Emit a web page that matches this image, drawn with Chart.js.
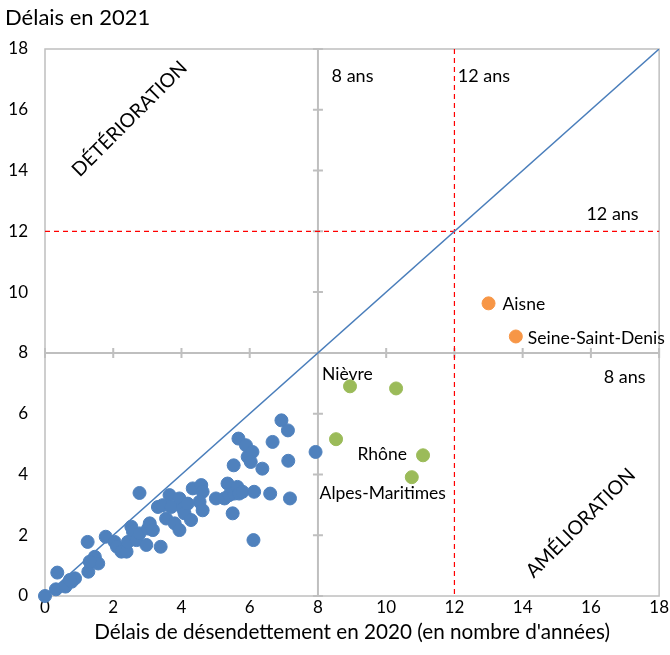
<!DOCTYPE html>
<html lang="fr">
<head>
<meta charset="UTF-8">
<title>Délais de désendettement 2020 / 2021</title>
<script src="https://cdn.jsdelivr.net/npm/chart.js"></script>
<style>
  html, body { margin: 0; padding: 0; background: #fff; }
  #wrap { width: 670px; height: 655px; position: relative; }
</style>
</head>
<body>
<div id="wrap"><canvas id="chart"></canvas></div>
<script>
// axis ticks
const tickValues = [0, 2, 4, 6, 8, 10, 12, 14, 16, 18];
const quadrantLine = 8;   // seuil "8 ans"
const alertLine = 12;     // seuil "12 ans"

// départements (délai 2020, délai 2021)
const blueX = [0, 0.36, 0.32, 0.6, 0.78, 0.88, 0.73, 1.27, 1.25, 1.46, 1.56, 1.31, 1.78, 2.04, 2.11, 2.24, 2.39,
  2.53, 2.58, 2.43, 2.77, 2.68, 2.97, 2.77, 3.02, 3.07, 3.16, 3.39, 3.31, 3.45, 3.55, 3.65, 3.7, 3.8, 3.94,
  3.94, 4.04, 4.09, 4.28, 4.33, 4.58, 4.62, 4.53, 4.62, 4.18, 5.01, 5.26, 5.35, 5.4, 5.55, 5.64, 5.69, 5.79,
  5.5, 5.53, 5.67, 5.89, 5.94, 6.08, 6.03, 6.13, 6.11, 6.37, 6.6, 6.67, 6.93, 7.12, 7.13, 7.18, 7.93];
const blueY = [0, 0.77, 0.22, 0.31, 0.47, 0.58, 0.53, 0.8, 1.78, 1.29, 1.07, 1.13, 1.95, 1.78, 1.62, 1.46, 1.46,
  2.28, 2.11, 1.78, 3.39, 1.84, 1.68, 2.06, 2.22, 2.39, 2.17, 1.62, 2.93, 2.99, 2.55, 3.32, 2.93, 2.39, 2.17,
  3.21, 2.88, 2.72, 2.5, 3.54, 3.65, 3.43, 3.1, 2.82, 3.04, 3.21, 3.21, 3.7, 3.32, 3.37, 3.59, 3.37, 3.43,
  2.72, 4.3, 5.18, 4.96, 4.58, 4.74, 4.41, 3.43, 1.84, 4.19, 3.37, 5.07, 5.78, 5.45, 4.45, 3.21, 4.74];

const greenX = [8.94, 10.29, 8.53, 11.08, 10.75];
const greenY = [6.9, 6.83, 5.16, 4.63, 3.91];
const greenNames = ['Nièvre', '', '', 'Rhône', 'Alpes-Maritimes'];

const orangeX = [13.0, 13.8];
const orangeY = [9.63, 8.54];
const orangeNames = ['Aisne', 'Seine-Saint-Denis'];

const toPoints = (xs, ys) => xs.map((x, i) => ({ x: x, y: ys[i] }));

const FONT = 'Lato, "Open Sans", sans-serif';
const GREY = '#BFBFBF';

// label offsets in pixels relative to the point
const labelPlacement = {
  'Nièvre': { dx: -28, dy: -12, align: 'left' },
  'Rhône': { dx: -16, dy: -1, align: 'right' },
  'Alpes-Maritimes': { dx: -29, dy: 16, align: 'center' },
  'Aisne': { dx: 14, dy: 1, align: 'left' },
  'Seine-Saint-Denis': { dx: 12, dy: 2, align: 'left' }
};

const decor = {
  id: 'decor',
  beforeDatasetsDraw(chart) {
    const { ctx, chartArea: a, scales: { x, y } } = chart;
    ctx.save();
    // plot border
    ctx.strokeStyle = GREY;
    ctx.lineWidth = 1.5;
    ctx.strokeRect(a.left, a.top, a.right - a.left, a.bottom - a.top);

    // axes crossing at 8
    const x8 = x.getPixelForValue(quadrantLine);
    const y8 = y.getPixelForValue(quadrantLine);
    ctx.lineWidth = 2;
    ctx.beginPath();
    ctx.moveTo(x8, a.top); ctx.lineTo(x8, a.bottom);
    ctx.moveTo(a.left, y8); ctx.lineTo(a.right, y8);
    tickValues.forEach(v => {
      const px = x.getPixelForValue(v);
      const py = y.getPixelForValue(v);
      ctx.moveTo(px, y8 - 5); ctx.lineTo(px, y8 + 5);
      ctx.moveTo(x8 - 5, py); ctx.lineTo(x8 + 5, py);
    });
    ctx.stroke();

    // red dashed 12 ans lines
    const x12 = x.getPixelForValue(alertLine);
    const y12 = y.getPixelForValue(alertLine);
    ctx.strokeStyle = '#FF0000';
    ctx.lineWidth = 1.2;
    ctx.setLineDash([5, 4]);
    ctx.beginPath();
    ctx.moveTo(x12, a.top); ctx.lineTo(x12, a.bottom);
    ctx.moveTo(a.left, y12); ctx.lineTo(a.right, y12);
    ctx.stroke();
    ctx.restore();
  },
  afterDatasetsDraw(chart) {
    const { ctx, scales: { x, y } } = chart;
    ctx.save();
    ctx.fillStyle = '#000';
    ctx.textBaseline = 'middle';
    ctx.font = '17.5px ' + FONT;

    // point labels
    chart.data.datasets.forEach((ds, i) => {
      if (!ds.names) return;
      chart.getDatasetMeta(i).data.forEach((el, j) => {
        const name = ds.names[j];
        if (!name) return;
        const p = labelPlacement[name];
        ctx.textAlign = p.align;
        ctx.fillText(name, el.x + p.dx, el.y + p.dy);
      });
    });

    // threshold captions
    ctx.font = '18px ' + FONT;
    ctx.textAlign = 'left';
    ctx.fillText('8 ans', x.getPixelForValue(8.4), y.getPixelForValue(17.1));
    ctx.fillText('12 ans', x.getPixelForValue(12.1), y.getPixelForValue(17.1));
    ctx.textAlign = 'right';
    ctx.fillText('12 ans', x.getPixelForValue(17.4), y.getPixelForValue(12.55));
    ctx.fillText('8 ans', x.getPixelForValue(17.6), y.getPixelForValue(7.2));

    // quadrant titles
    ctx.font = '19.5px ' + FONT;
    ctx.textAlign = 'center';
    [['DÉTÉRIORATION', 2.48, 15.7], ['AMÉLIORATION', 15.7, 2.4]].forEach(([t, vx, vy]) => {
      ctx.save();
      ctx.translate(x.getPixelForValue(vx), y.getPixelForValue(vy));
      ctx.rotate(-Math.PI / 4);
      ctx.fillText(t, 0, 0);
      ctx.restore();
    });
    ctx.restore();
  }
};

new Chart(document.getElementById('chart'), {
  type: 'scatter',
  data: {
    datasets: [
      {
        label: 'Départements',
        data: toPoints(blueX, blueY),
        backgroundColor: '#4F81BD',
        borderColor: '#4F81BD',
        pointRadius: 6.5,
        clip: false,
        order: 3
      },
      {
        label: 'Amélioration',
        data: toPoints(greenX, greenY),
        names: greenNames,
        backgroundColor: '#9BBB59',
        borderColor: '#9BBB59',
        pointRadius: 6.5,
        order: 2
      },
      {
        label: 'Au-delà de 12 ans',
        data: toPoints(orangeX, orangeY),
        names: orangeNames,
        backgroundColor: '#F79646',
        borderColor: '#F79646',
        pointRadius: 6.5,
        order: 1
      },
      {
        label: 'Bissectrice',
        data: [{ x: tickValues[0], y: tickValues[0] }, { x: tickValues[tickValues.length - 1], y: tickValues[tickValues.length - 1] }],
        showLine: true,
        borderColor: '#4A7EBB',
        borderWidth: 1.5,
        pointRadius: 0,
        order: 10
      }
    ]
  },
  options: {
    responsive: true,
    maintainAspectRatio: false,
    animation: false,
    layout: { padding: { left: 5, right: 9, top: 0, bottom: 0 } },
    plugins: {
      legend: { display: false },
      tooltip: { enabled: false },
      title: {
        display: true,
        text: 'Délais en 2021',
        align: 'start',
        color: '#000',
        font: { family: FONT, size: 22, weight: 'normal' },
        padding: { top: 5, bottom: 17.6 }
      }
    },
    scales: {
      x: {
        type: 'linear',
        min: 0,
        max: 18,
        afterBuildTicks: s => { s.ticks = tickValues.map(v => ({ value: v })); },
        afterFit: s => { s.height = 59; },
        grid: { display: false, drawTicks: false },
        border: { display: false },
        ticks: { color: '#000', padding: 1, font: { family: FONT, size: 17 } },
        title: {
          display: true,
          text: "Délais de désendettement en 2020 (en nombre d'années)",
          color: '#000',
          font: { family: FONT, size: 20.7 },
          padding: { top: 0, bottom: 10 }
        }
      },
      y: {
        type: 'linear',
        min: 0,
        max: 18,
        afterBuildTicks: s => { s.ticks = tickValues.map(v => ({ value: v })); },
        afterFit: s => { s.width = 40; },
        grid: { display: false, drawTicks: false },
        border: { display: false },
        ticks: { color: '#000', padding: 17, font: { family: FONT, size: 17 } }
      }
    }
  },
  plugins: [decor]
});
</script>
</body>
</html>
